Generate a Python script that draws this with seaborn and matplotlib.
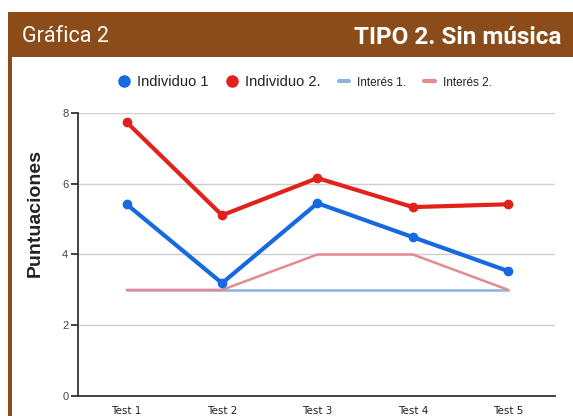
import matplotlib
matplotlib.use("Agg")
import matplotlib.pyplot as plt
import seaborn as sns
import pandas as pd
from matplotlib.lines import Line2D
from matplotlib.patches import Rectangle

tests = ["Test 1", "Test 2", "Test 3", "Test 4", "Test 5"]
individuo1 = [5.42, 3.19, 5.45, 4.49, 3.53]
individuo2 = [7.74, 5.11, 6.16, 5.34, 5.42]
interes1 = [3, 3, 3, 3, 3]
interes2 = [3, 3, 4, 4, 3]
yticks = [0, 2, 4, 6, 8]

sns.set_theme(style="white")
plt.rcParams['font.family'] = ['Liberation Sans', 'DejaVu Sans']

fig = plt.figure(figsize=(5.73, 4.16), dpi=100)
fig.patch.set_facecolor("white")

# header bar
brown = "#8B4C1A"
fig.add_artist(Rectangle((8/573, 1-57/416), 1-8/573, 45/416, transform=fig.transFigure,
                         facecolor=brown, edgecolor="none"))
fig.add_artist(Rectangle((8/573, 0), 4/573, 1-57/416, transform=fig.transFigure,
                         facecolor=brown, edgecolor="none"))
fig.text(22/573, 1-37/416, "Gráfica 2", color="white", fontsize=15.5, family="Roboto",
         fontweight="normal", va="center", ha="left")
fig.text(561/573, 1-37/416, "TIPO 2. Sin música", color="white", fontsize=17.5, family="Roboto",
         fontweight="bold", va="center", ha="right")

ax = fig.add_axes([78/573, 1-396/416, (555-78)/573, (396-113)/416])
xs = list(range(len(tests)))
df = pd.DataFrame({"x": xs * 4,
                   "y": interes1 + interes2 + individuo1 + individuo2,
                   "serie": ["Interés 1."] * 5 + ["Interés 2."] * 5 + ["Individuo 1"] * 5 + ["Individuo 2."] * 5})

c_b, c_r, c_i1, c_i2 = "#1769E0", "#E3211B", "#8DB3DD", "#E48A90"
sns.lineplot(data=df[df.serie == "Interés 1."], x="x", y="y", color=c_i1, lw=1.8, ax=ax, zorder=3)
sns.lineplot(data=df[df.serie == "Interés 2."], x="x", y="y", color=c_i2, lw=1.8, ax=ax, zorder=3)
sns.lineplot(data=df[df.serie == "Individuo 1"], x="x", y="y", color=c_b, lw=3, marker="o",
             markersize=7, markeredgewidth=0, ax=ax, zorder=4, clip_on=False)
sns.lineplot(data=df[df.serie == "Individuo 2."], x="x", y="y", color=c_r, lw=3, marker="o",
             markersize=7, markeredgewidth=0, ax=ax, zorder=4, clip_on=False)

ax.set_xlim(-0.51, 4.49)
ax.set_ylim(0, 8)
ax.set_yticks(yticks)
ax.set_yticklabels([str(v) for v in yticks], fontsize=8, color="#444")
ax.set_xticks(xs)
ax.set_xticklabels(tests, fontsize=7.5, color="#222", family="Liberation Sans Narrow")
ax.yaxis.grid(True, color="#cfcfcf", lw=1)
ax.set_axisbelow(True)
for s in ["top", "right"]:
    ax.spines[s].set_visible(False)
ax.spines["left"].set_color("#333")
ax.spines["bottom"].set_color("#333")
ax.spines["left"].set_linewidth(1.3)
ax.spines["bottom"].set_linewidth(1.3)
ax.tick_params(axis="y", left=True, length=5, width=1.3, color="#333", pad=2)
ax.tick_params(axis="x", bottom=False, pad=1.5)
ax.set_xlabel("")
ax.set_ylabel("Puntuaciones", fontsize=14, fontweight="bold", color="#222", va="center")
ax.yaxis.set_label_coords(-0.09, 0.647)
ax.set_facecolor("white")

handles = [Line2D([], [], color=c_b, marker="o", ls="none", markersize=8),
           Line2D([], [], color=c_r, marker="o", ls="none", markersize=8),
           Line2D([], [], color=c_i1, lw=3),
           Line2D([], [], color=c_i2, lw=3)]
labels = ["Individuo 1", "Individuo 2.", "Interés 1.", "Interés 2."]
leg = fig.legend(handles, labels, loc="center", bbox_to_anchor=(305/573, 1-82/416), ncol=4,
                 frameon=False, handlelength=0.7, handletextpad=0.5, columnspacing=1.2)
for i, t in enumerate(leg.get_texts()):
    t.set_fontsize(10.5 if i < 2 else 8.5)
    t.set_color("#222")

fig.savefig("out.png", dpi=100)
